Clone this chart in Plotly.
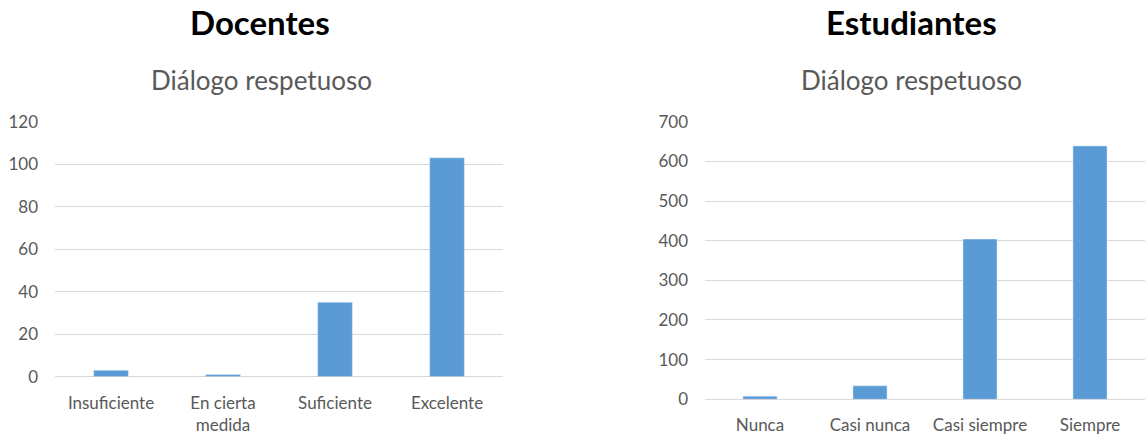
import plotly.graph_objects as go

doc_categories = ["Insuficiente", "En cierta<br>medida", "Suficiente", "Excelente"]
doc_values = [3, 1, 35, 103]
doc_ticks = [0, 20, 40, 60, 80, 100, 120]

est_categories = ["Nunca", "Casi nunca", "Casi siempre", "Siempre"]
est_values = [8, 34, 404, 639]
est_ticks = [0, 100, 200, 300, 400, 500, 600, 700]

BAR = "#5b9bd5"
GRID = "#d9d9d9"
TXT = "#595959"
FONT = "Lato"
W, H = 1145, 437

fig = go.Figure()
fig.add_trace(go.Bar(x=doc_categories, y=doc_values, marker_color=BAR, xaxis="x", yaxis="y", showlegend=False))
fig.add_trace(go.Bar(x=est_categories, y=est_values, marker_color=BAR, xaxis="x2", yaxis="y2", showlegend=False))

def ypos(px):
    return 1 - px / H

tickfont = dict(family=FONT, size=17, color=TXT)
yaxis_common = dict(showgrid=True, gridcolor=GRID, gridwidth=1, zeroline=True, zerolinecolor=GRID,
                    zerolinewidth=1, showline=False, tickfont=tickfont, ticks="", fixedrange=True,
                    automargin=False, ticklabelstandoff=16)
xaxis_common = dict(showgrid=False, showline=False, ticks="", tickfont=tickfont, fixedrange=True,
                    automargin=False, ticklabelstandoff=14)

fig.update_layout(
    width=W, height=H,
    margin=dict(l=0, r=0, t=0, b=0, autoexpand=False),
    paper_bgcolor="white", plot_bgcolor="white",
    bargap=0.69,
    xaxis=dict(domain=[55/W, 503/W], anchor="y", **xaxis_common),
    yaxis=dict(domain=[ypos(376.7), ypos(121.7)], anchor="x", range=[0, 120], tickvals=doc_ticks,
               **yaxis_common),
    xaxis2=dict(domain=[705/W, 1.0], anchor="y2", **xaxis_common),
    yaxis2=dict(domain=[ypos(399.3), ypos(121.7)], anchor="x2", range=[0, 700], tickvals=est_ticks,
                **yaxis_common),
    annotations=[
        dict(text="<b>Docentes</b>", x=260/W, y=ypos(22), xref="paper", yref="paper", showarrow=False,
             font=dict(family=FONT, size=33, color="black"), xanchor="center", yanchor="middle"),
        dict(text="Diálogo respetuoso", x=261/W, y=ypos(80), xref="paper", yref="paper", showarrow=False,
             font=dict(family=FONT, size=26, color=TXT), xanchor="center", yanchor="middle"),
        dict(text="<b>Estudiantes</b>", x=911/W, y=ypos(22), xref="paper", yref="paper", showarrow=False,
             font=dict(family=FONT, size=33, color="black"), xanchor="center", yanchor="middle"),
        dict(text="Diálogo respetuoso", x=911/W, y=ypos(80), xref="paper", yref="paper", showarrow=False,
             font=dict(family=FONT, size=26, color=TXT), xanchor="center", yanchor="middle"),
    ],
)

fig.write_html("out.html", config={"displayModeBar": False},
               post_script="document.body.style.margin='0';document.body.style.overflow='hidden';")
